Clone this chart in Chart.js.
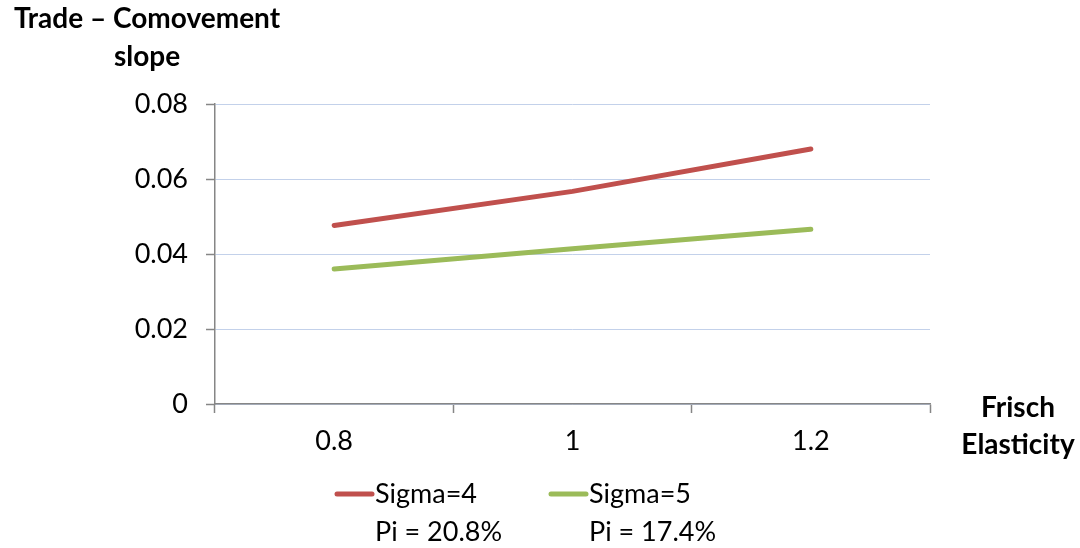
<!DOCTYPE html>
<html>
<head>
<meta charset="utf-8">
<script src="https://cdn.jsdelivr.net/npm/chart.js@4.4.1/dist/chart.umd.min.js"></script>
<style>
  html, body { margin: 0; padding: 0; background: #ffffff; }
  #wrap { width: 1080px; height: 548px; position: relative; }
</style>
</head>
<body>
<div id="wrap"><canvas id="c" width="1080" height="548"></canvas></div>
<script>
// ---- data ----
const categories = ["0.8", "1", "1.2"];
const sigma4 = [0.0476, 0.0567, 0.0680];
const sigma5 = [0.0360, 0.0414, 0.0466];
const seriesLabels = [["Sigma=4", "Pi = 20.8%"], ["Sigma=5", "Pi = 17.4%"]];
const yTicks = [0, 0.02, 0.04, 0.06, 0.08];
const yTitle = ["Trade \u2013 Comovement", "slope"];
const xTitle = ["Frisch", "Elasticity"];

const FONT = "Lato, 'Open Sans', sans-serif";
const RED = "#C0504D";
const GREEN = "#9BBB59";
const AXIS = "#868686";

const textPlugin = {
  id: "texts",
  afterDraw(chart) {
    const ctx = chart.ctx;
    ctx.save();
    ctx.fillStyle = "#000";
    ctx.textBaseline = "middle";
    // y title
    ctx.font = "bold 28px " + FONT;
    ctx.textAlign = "center";
    ctx.fillText(yTitle[0], 147, 19);
    ctx.fillText(yTitle[1], 147, 57);
    // x title
    ctx.fillText(xTitle[0], 1018, 408);
    ctx.fillText(xTitle[1], 1018, 445);
    // legend
    ctx.font = "27px " + FONT;
    ctx.textAlign = "left";
    const items = [{ x: 337 }, { x: 551 }];
    chart.data.datasets.forEach((ds, i) => {
      const it = items[i];
      ctx.strokeStyle = ds.borderColor;
      ctx.lineWidth = 5;
      ctx.lineCap = "round";
      ctx.beginPath();
      ctx.moveTo(it.x, 494);
      ctx.lineTo(it.x + 35, 494);
      ctx.stroke();
      ctx.fillText(ds.label[0], it.x + 38, 494);
      ctx.fillText(ds.label[1], it.x + 38, 532);
    });
    ctx.restore();
  }
};

new Chart(document.getElementById("c"), {
  type: "line",
  data: {
    labels: categories,
    datasets: [
      { label: seriesLabels[0], data: sigma4, borderColor: RED, borderWidth: 5,
        pointRadius: 0, tension: 0, borderCapStyle: "round", borderJoinStyle: "round", fill: false },
      { label: seriesLabels[1], data: sigma5, borderColor: GREEN, borderWidth: 5,
        pointRadius: 0, tension: 0, borderCapStyle: "round", borderJoinStyle: "round", fill: false }
    ]
  },
  options: {
    responsive: false,
    animation: false,
    devicePixelRatio: 1,
    layout: { padding: { left: 0, right: 150, top: 104, bottom: 0 } },
    plugins: { legend: { display: false }, tooltip: { enabled: false } },
    scales: {
      x: {
        type: "category",
        offset: true,
        grid: { display: true, offset: true, drawOnChartArea: false, drawTicks: true,
                tickLength: 9, tickColor: AXIS, tickWidth: 1.5 },
        border: { display: true, color: AXIS, width: 1.5 },
        ticks: { color: "#000", font: { family: FONT, size: 27 }, padding: 12, maxRotation: 0 },
        afterFit(scale) { scale.height = 144; }
      },
      y: {
        min: 0, max: 0.08,
        afterBuildTicks(scale) { scale.ticks = yTicks.map(v => ({ value: v })); },
        grid: { color: "#C3D1EA", lineWidth: 1, borderDash: [2, 2], drawTicks: true,
                tickLength: 9, tickColor: AXIS, tickBorderDash: [], tickWidth: 1.5 },
        border: { display: true, color: AXIS, width: 1.5 },
        ticks: { color: "#000", font: { family: FONT, size: 27 }, padding: 18,
                 callback: v => String(v) },
        afterFit(scale) { scale.width = 215; }
      }
    }
  },
  plugins: [textPlugin]
});
</script>
</body>
</html>
